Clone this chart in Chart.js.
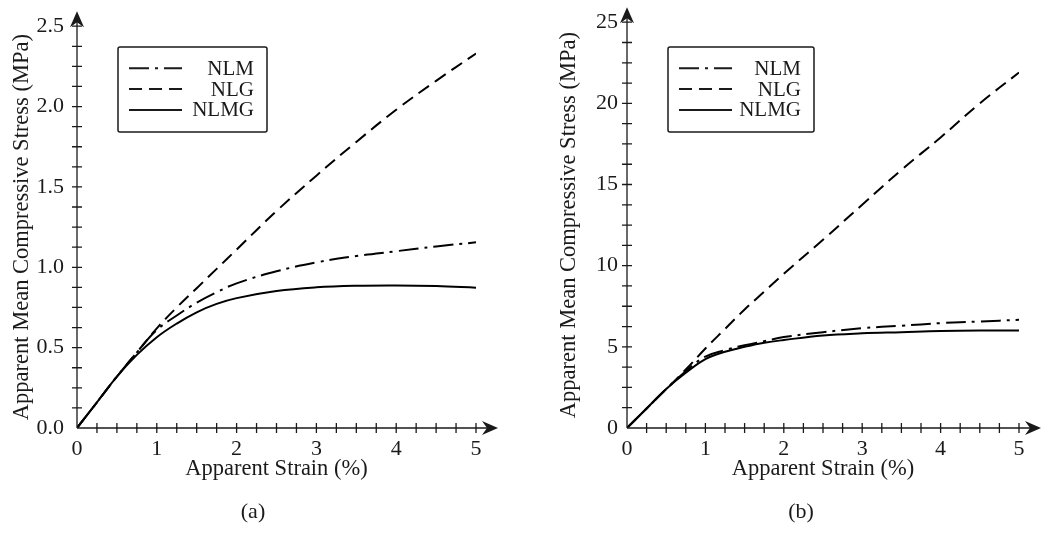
<!DOCTYPE html>
<html>
<head>
<meta charset="utf-8">
<script src="https://cdn.jsdelivr.net/npm/chart.js@4.4.1/dist/chart.umd.min.js"></script>
<style>
    html, body { margin: 0; padding: 0; background: #fff; }
    .panel { position: absolute; top: 0; }
</style>
</head>
<body>
<div class="panel" style="left:0px;"><canvas id="chartA" width="520" height="533"></canvas></div>
<div class="panel" style="left:520px;"><canvas id="chartB" width="531" height="533"></canvas></div>
<script>
// strain (%) sample points shared by every curve
const strain = [0, 0.25, 0.5, 0.75, 1, 1.25, 1.5, 1.75, 2, 2.5, 3, 3.5, 4, 4.5, 5];

// panel (a)
const nlmA  = [0, 0.16, 0.32, 0.47, 0.61, 0.70, 0.78, 0.845, 0.90, 0.975, 1.03, 1.07, 1.10, 1.13, 1.155];
const nlgA  = [0, 0.16, 0.32, 0.47, 0.62, 0.75, 0.87, 0.99, 1.11, 1.35, 1.57, 1.78, 1.98, 2.16, 2.33];
const nlmgA = [0, 0.16, 0.32, 0.455, 0.565, 0.65, 0.72, 0.772, 0.808, 0.852, 0.875, 0.885, 0.887, 0.883, 0.873];

// panel (b)
const nlmB  = [0, 1.2, 2.4, 3.5, 4.4, 4.8, 5.1, 5.35, 5.6, 5.9, 6.15, 6.3, 6.46, 6.56, 6.67];
const nlgB  = [0, 1.2, 2.4, 3.6, 4.9, 6.1, 7.3, 8.4, 9.5, 11.6, 13.75, 15.9, 17.9, 20.0, 21.9];
const nlmgB = [0, 1.2, 2.4, 3.4, 4.25, 4.7, 5.0, 5.25, 5.42, 5.7, 5.83, 5.9, 5.97, 6.0, 6.0];

const seriesNames = ['NLM', 'NLG', 'NLMG'];
const xTitle = 'Apparent Strain (%)';
const yTitle = 'Apparent Mean Compressive Stress (MPa)';

const FONT = "'Liberation Serif', 'Times New Roman', serif";
const INK = '#1a1a1a';
const dashes = [[20, 6, 3, 6], [13, 7], []];

function toPoints(ys) {
    return strain.map((x, i) => ({x: x, y: ys[i]}));
}

// axes with arrows, crossing tick marks, custom legend box and panel caption
const decorations = {
    id: 'decorations',
    afterDraw(chart, args, opts) {
        const ctx = chart.ctx;
        const xs = chart.scales.x, ys = chart.scales.y;
        const area = chart.chartArea;
        const x0 = xs.getPixelForValue(0), y0 = ys.getPixelForValue(0);
        ctx.save();
        ctx.strokeStyle = INK;
        ctx.fillStyle = INK;
        ctx.lineWidth = 1.3;

        // axis lines
        ctx.beginPath();
        ctx.moveTo(x0, y0);
        ctx.lineTo(area.right + 18, y0);
        ctx.moveTo(x0, y0);
        ctx.lineTo(x0, area.top - 12);
        ctx.stroke();

        // tick marks
        ctx.beginPath();
        xs.ticks.forEach(t => {
            const px = xs.getPixelForValue(t.value);
            if (t.value === 0) return;
            ctx.moveTo(px, y0 - 5);
            ctx.lineTo(px, y0 + 5);
        });
        ys.ticks.forEach(t => {
            const py = ys.getPixelForValue(t.value);
            if (t.value === 0) return;
            ctx.moveTo(x0 - 5, py);
            ctx.lineTo(x0 + 5, py);
        });
        ctx.stroke();

        // arrow heads
        const tipX = area.right + 22;
        ctx.beginPath();
        ctx.moveTo(tipX, y0);
        ctx.lineTo(tipX - 16, y0 - 7);
        ctx.lineTo(tipX - 11, y0);
        ctx.lineTo(tipX - 16, y0 + 7);
        ctx.closePath();
        ctx.fill();
        const tipY = area.top - 15;
        ctx.beginPath();
        ctx.moveTo(x0, tipY);
        ctx.lineTo(x0 - 7, tipY + 16);
        ctx.lineTo(x0, tipY + 11);
        ctx.lineTo(x0 + 7, tipY + 16);
        ctx.closePath();
        ctx.fill();

        // legend
        const b = opts.box;
        ctx.lineWidth = 1.5;
        ctx.beginPath();
        ctx.roundRect(b.left, b.top, b.width, b.height, 2);
        ctx.stroke();
        ctx.font = '21px ' + FONT;
        ctx.textAlign = 'right';
        ctx.textBaseline = 'middle';
        chart.data.datasets.forEach((ds, i) => {
            const ry = b.top + 21.3 + i * 20.8;
            ctx.lineWidth = 2;
            ctx.setLineDash(ds.borderDash);
            ctx.beginPath();
            ctx.moveTo(b.left + 11, ry);
            ctx.lineTo(b.left + 64, ry);
            ctx.stroke();
            ctx.setLineDash([]);
            ctx.fillText(ds.label, b.left + b.width - 13, ry + 1);
        });

        // panel caption
        ctx.font = '22px ' + FONT;
        ctx.textAlign = 'center';
        ctx.fillText(opts.caption, opts.captionX, 512);
        ctx.restore();
    }
};

function makeChart(canvasId, data, yMax, yStep, yLabelEvery, yDigits, pad, yWidth, yPad, legendBox, caption, captionX) {
    return new Chart(document.getElementById(canvasId), {
        type: 'line',
        data: {
            datasets: data.map((ys, i) => ({
                label: seriesNames[i],
                data: toPoints(ys),
                borderColor: '#000',
                borderWidth: 2,
                borderDash: dashes[i],
                pointRadius: 0,
                fill: false,
                tension: 0.4
            }))
        },
        options: {
            responsive: false,
            animation: false,
            layout: {padding: pad},
            plugins: {
                legend: {display: false},
                tooltip: {enabled: false},
                decorations: {box: legendBox, caption: caption, captionX: captionX}
            },
            scales: {
                x: {
                    type: 'linear',
                    min: 0,
                    max: 5,
                    grid: {display: false, drawTicks: false},
                    border: {display: false},
                    ticks: {
                        stepSize: 0.25,
                        autoSkip: false,
                        maxRotation: 0,
                        padding: 8,
                        color: INK,
                        font: {family: FONT, size: 22},
                        callback: (v) => (v % 1 === 0 ? String(v) : '')
                    },
                    title: {
                        display: true,
                        text: xTitle,
                        color: INK,
                        font: {family: FONT, size: 22.5},
                        padding: {top: 0, bottom: 50}
                    },
                    afterFit: (scale) => { scale.height = 105; }
                },
                y: {
                    type: 'linear',
                    min: 0,
                    max: yMax,
                    grid: {display: false, drawTicks: false},
                    border: {display: false},
                    ticks: {
                        stepSize: yStep,
                        autoSkip: false,
                        padding: yPad,
                        color: INK,
                        font: {family: FONT, size: 22},
                        callback: (v) => (Math.abs(v % yLabelEvery) < 1e-9 ? v.toFixed(yDigits) : '')
                    },
                    title: {
                        display: true,
                        text: yTitle,
                        color: INK,
                        font: {family: FONT, size: 22.5},
                        padding: {top: 9, bottom: 0}
                    },
                    afterFit: (scale) => { scale.width = yWidth; }
                }
            }
        },
        plugins: [decorations]
    });
}

makeChart('chartA', [nlmA, nlgA, nlmgA], 2.5, 0.125, 0.5, 1,
    {left: 0, right: 44, top: 20, bottom: 0}, 77, 13,
    {left: 118, top: 47, width: 149, height: 85}, '(a)', 253);

makeChart('chartB', [nlmB, nlgB, nlmgB], 25, 1.25, 5, 0,
    {left: 27, right: 32, top: 20, bottom: 0}, 80, 9,
    {left: 148, top: 47, width: 146, height: 85}, '(b)', 281);
</script>
</body>
</html>
